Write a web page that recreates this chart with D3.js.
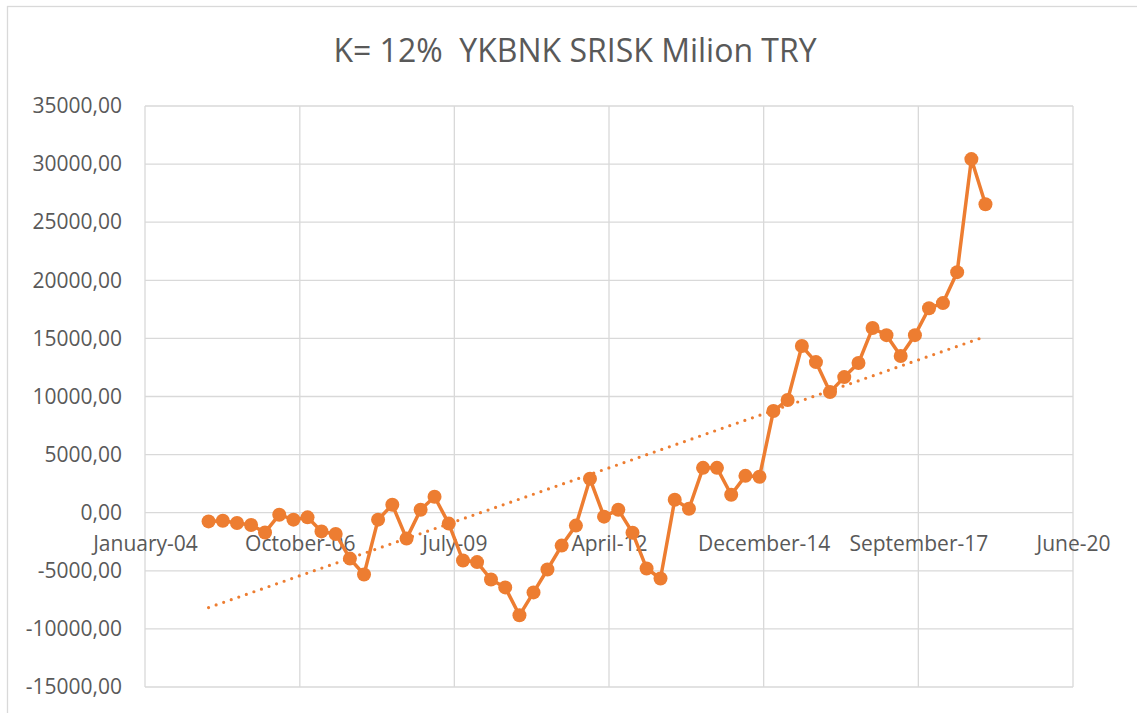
<!DOCTYPE html>
<html>
<head>
<meta charset="utf-8">
<script src="https://cdn.jsdelivr.net/npm/d3@7"></script>
<style>
  body { margin: 0; background: #fff; }
  text { font-family: "Open Sans", sans-serif; fill: #595959; }
</style>
</head>
<body>
<div id="chart"></div>
<script>
// Quarterly observation dates
const dates = [
    "2005-02-28", "2005-05-31", "2005-08-31", "2005-11-30",
    "2006-02-28", "2006-05-31", "2006-08-31", "2006-11-30",
    "2007-02-28", "2007-05-31", "2007-08-31", "2007-11-30",
    "2008-02-29", "2008-05-31", "2008-08-31", "2008-11-30",
    "2009-02-28", "2009-05-31", "2009-08-31", "2009-11-30",
    "2010-02-28", "2010-05-31", "2010-08-31", "2010-11-30",
    "2011-02-28", "2011-05-31", "2011-08-31", "2011-11-30",
    "2012-02-29", "2012-05-31", "2012-08-31", "2012-11-30",
    "2013-02-28", "2013-05-31", "2013-08-31", "2013-11-30",
    "2014-02-28", "2014-05-31", "2014-08-31", "2014-11-30",
    "2015-02-28", "2015-05-31", "2015-08-31", "2015-11-30",
    "2016-02-29", "2016-05-31", "2016-08-31", "2016-11-30",
    "2017-02-28", "2017-05-31", "2017-08-31", "2017-11-30",
    "2018-02-28", "2018-05-31", "2018-08-31", "2018-11-30"
];

// SRISK, million TRY
const srisk = [
    -750, -690, -890, -1060, -1700, -170, -600, -400, -1610, -1830,
    -3950, -5320, -600, 690, -2230, 260, 1370, -940, -4120, -4250,
    -5750, -6430, -8830, -6860, -4890, -2830, -1110, 2920, -340, 260,
    -1720, -4800, -5660, 1110, 340, 3860, 3860, 1540, 3170, 3090,
    8750, 9700, 14340, 12960, 10380, 11670, 12880, 15890, 15280, 13480,
    15280, 17600, 18040, 20700, 30430, 26540
];

const yTicks = [-15000, -10000, -5000, 0, 5000, 10000, 15000, 20000, 25000, 30000, 35000];
const xTickDates = ["2004-01-14", "2006-10-11", "2009-07-06", "2012-04-01", "2014-12-27", "2017-09-22", "2020-06-18"];

const parse = d3.timeParse("%Y-%m-%d");
const data = dates.map((d, i) => ({ date: parse(d), value: srisk[i] }));

const W = 1137, H = 713;
const margin = { top: 106, right: 64, bottom: 26, left: 145 };
const width = W - margin.left - margin.right;
const height = H - margin.top - margin.bottom;

const svg = d3.select("#chart")
    .append("svg")
    .attr("width", W)
    .attr("height", H);

// chart frame
svg.append("rect")
    .attr("x", 7.5).attr("y", 6.5)
    .attr("width", W).attr("height", H)
    .attr("fill", "none")
    .attr("stroke", "#d9d9d9")
    .attr("stroke-width", 1.3);

svg.append("text")
    .attr("x", 575)
    .attr("y", 62)
    .attr("text-anchor", "middle")
    .style("font-size", "32px")
    .style("white-space", "pre")
    .text("K= 12%  YKBNK SRISK Milion TRY");

const g = svg.append("g")
    .attr("transform", `translate(${margin.left},${margin.top})`);

const x = d3.scaleTime()
    .domain([parse(xTickDates[0]), parse(xTickDates[xTickDates.length - 1])])
    .range([0, width]);

const y = d3.scaleLinear()
    .domain([-15000, 35000])
    .range([height, 0]);

// gridlines
g.append("g")
    .selectAll("line")
    .data(yTicks)
    .join("line")
    .attr("x1", 0).attr("x2", width)
    .attr("y1", d => y(d)).attr("y2", d => y(d))
    .attr("stroke", "#d9d9d9")
    .attr("stroke-width", 1.3);

g.append("g")
    .selectAll("line")
    .data(xTickDates.map(parse))
    .join("line")
    .attr("x1", d => x(d)).attr("x2", d => x(d))
    .attr("y1", 0).attr("y2", height)
    .attr("stroke", "#d9d9d9")
    .attr("stroke-width", 1.3);

// y axis labels, comma decimal and plain hyphen
const yAxis = d3.axisLeft(y)
    .tickValues(yTicks)
    .tickSize(0)
    .tickPadding(23)
    .tickFormat(d => (d < 0 ? "-" : "") + Math.abs(d).toFixed(2).replace(".", ","));

g.append("g")
    .call(yAxis)
    .call(s => s.select(".domain").remove())
    .selectAll("text")
    .style("font-size", "21px")
    .style("fill", "#595959")
    .style("font-family", "'Open Sans', sans-serif");

// x axis labels sit on the zero line
const xAxis = d3.axisBottom(x)
    .tickValues(xTickDates.map(parse))
    .tickSize(0)
    .tickPadding(23)
    .tickFormat(d3.timeFormat("%B-%y"));

g.append("g")
    .attr("transform", `translate(0,${y(0)})`)
    .call(xAxis)
    .call(s => s.select(".domain").remove())
    .selectAll("text")
    .style("font-size", "21px")
    .style("fill", "#595959")
    .style("font-family", "'Open Sans', sans-serif");

// linear trendline (least squares on dates)
const xs = data.map(d => d.date.getTime());
const ys = data.map(d => d.value);
const mx = d3.mean(xs), my = d3.mean(ys);
const slope = d3.sum(xs, (v, i) => (v - mx) * (ys[i] - my)) / d3.sum(xs, v => (v - mx) * (v - mx));
const icpt = my - slope * mx;
const first = data[0].date, last = data[data.length - 1].date;

g.append("line")
    .attr("x1", x(first)).attr("y1", y(icpt + slope * first.getTime()))
    .attr("x2", x(last)).attr("y2", y(icpt + slope * last.getTime()))
    .attr("stroke", "#ED7D31")
    .attr("stroke-width", 3.2)
    .attr("stroke-linecap", "round")
    .attr("stroke-dasharray", "0 8");

const line = d3.line()
    .x(d => x(d.date))
    .y(d => y(d.value));

g.append("path")
    .datum(data)
    .attr("d", line)
    .attr("fill", "none")
    .attr("stroke", "#ED7D31")
    .attr("stroke-width", 3.5)
    .attr("stroke-linejoin", "round");

g.selectAll("circle")
    .data(data)
    .join("circle")
    .attr("cx", d => x(d.date))
    .attr("cy", d => y(d.value))
    .attr("r", 7)
    .attr("fill", "#ED7D31");
</script>
</body>
</html>
